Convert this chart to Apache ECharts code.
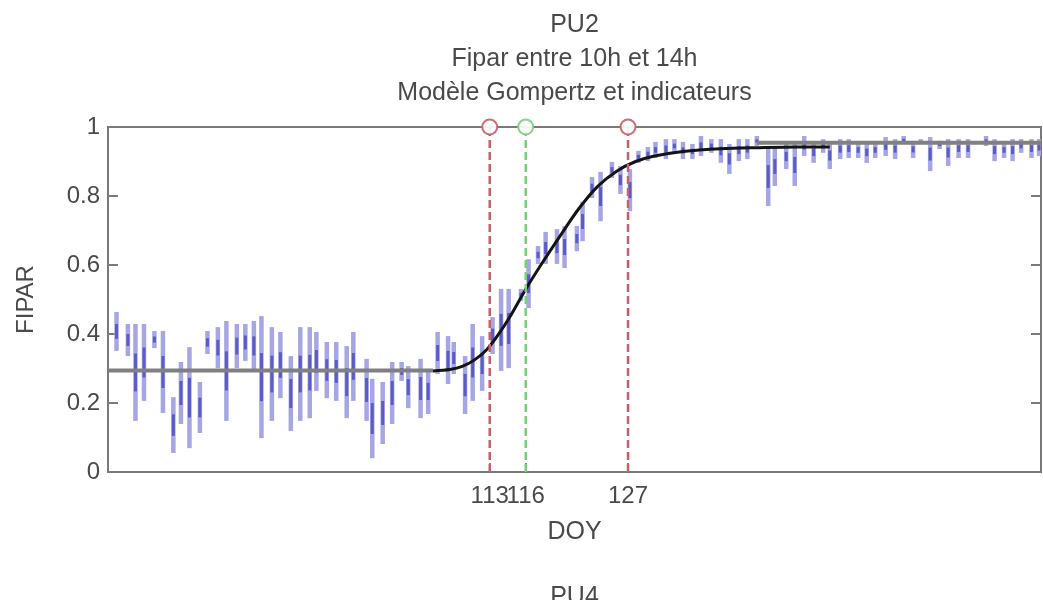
<!DOCTYPE html>
<html>
<head>
<meta charset="utf-8">
<script src="https://cdn.jsdelivr.net/npm/echarts@6/dist/echarts.min.js"></script>
<style>
  html, body { margin: 0; padding: 0; background: #ffffff; }
  #chart { width: 1043px; height: 600px; }
</style>
</head>
<body>
<div id="chart"></div>
<script>
// ---------------- data ----------------
const titleLines = ['PU2', 'Fipar entre 10h et 14h', 'Modèle Gompertz et indicateurs'];
const nextPanelTitle = 'PU4';
const xName = 'DOY';
const yName = 'FIPAR';
const xRange = [72.3, 170.8];
const yTicks = [0, 0.2, 0.4, 0.6, 0.8, 1];

// measured FIPAR (10h-14h) : per day, low and high of the readings
const days = [73.2, 74.4, 75.2, 76.1, 77.2, 78.1, 79.2, 80.0, 80.9, 82.0, 82.8, 83.9, 84.8, 85.9, 86.8, 87.7, 88.5, 89.6, 90.5, 91.6,
  92.6, 93.6, 94.3, 95.4, 96.4, 97.5, 98.2, 99.6, 100.2, 101.3, 102.3, 103.3, 104.0, 105.3, 106.1, 107.1, 108.2, 108.8, 110.0, 110.8,
  111.8, 112.9, 113.8, 114.6, 115.9, 116.7, 117.7, 118.5, 119.7, 120.5, 121.8, 122.4, 123.4, 124.3, 125.5, 126.4, 127.4, 128.3, 129.3, 130.1,
  131.2, 132.1, 133.0, 134.0, 134.9, 136.0, 137.0, 137.9, 138.9, 139.8, 140.8, 142.0, 142.7, 143.9, 144.8, 145.8, 146.8, 147.8, 148.5, 149.6,
  150.5, 151.5, 152.4, 153.3, 154.4, 155.4, 156.3, 157.3, 158.1, 159.1, 160.1, 161.0, 162.1, 163.1, 165.0, 165.9, 166.9, 167.8, 168.7, 169.8, 170.6];
const fiparLow = [0.354, 0.339, 0.151, 0.209, 0.362, 0.174, 0.058, 0.142, 0.072, 0.116, 0.345, 0.304, 0.151, 0.304, 0.325, 0.296, 0.101, 0.151, 0.217, 0.122,
  0.151, 0.159, 0.238, 0.217, 0.209, 0.159, 0.209, 0.151, 0.043, 0.084, 0.142, 0.267, 0.188, 0.159, 0.171, 0.287, 0.258, 0.287, 0.171, 0.209,
  0.238, 0.345, 0.296, 0.304, 0.499, 0.478, 0.606, 0.606, 0.606, 0.594, 0.643, 0.672, 0.797, 0.730, 0.855, 0.809, 0.759, 0.899, 0.904, 0.913,
  0.910, 0.928, 0.910, 0.910, 0.919, 0.928, 0.899, 0.867, 0.904, 0.910, 0.948, 0.774, 0.832, 0.881, 0.832, 0.919, 0.899, 0.928, 0.881, 0.910,
  0.913, 0.913, 0.899, 0.913, 0.919, 0.910, 0.954, 0.913, 0.954, 0.875, 0.939, 0.890, 0.913, 0.913, 0.948, 0.904, 0.913, 0.904, 0.928, 0.913, 0.919];
const fiparHigh = [0.461, 0.426, 0.426, 0.426, 0.406, 0.406, 0.214, 0.316, 0.359, 0.258, 0.406, 0.417, 0.435, 0.426, 0.426, 0.435, 0.449, 0.417, 0.403, 0.333,
  0.417, 0.417, 0.403, 0.374, 0.374, 0.362, 0.403, 0.325, 0.267, 0.258, 0.316, 0.316, 0.304, 0.325, 0.296, 0.403, 0.391, 0.374, 0.333, 0.426,
  0.391, 0.446, 0.528, 0.528, 0.528, 0.614, 0.652, 0.693, 0.701, 0.710, 0.710, 0.780, 0.852, 0.867, 0.896, 0.884, 0.875, 0.928, 0.939, 0.954,
  0.962, 0.962, 0.954, 0.948, 0.971, 0.962, 0.962, 0.948, 0.962, 0.962, 0.971, 0.939, 0.939, 0.948, 0.948, 0.971, 0.954, 0.962, 0.954, 0.962,
  0.962, 0.954, 0.954, 0.954, 0.968, 0.962, 0.971, 0.957, 0.962, 0.968, 0.957, 0.962, 0.962, 0.962, 0.971, 0.962, 0.954, 0.962, 0.962, 0.962, 0.962];

// fitted Gompertz model
const curveDoy = [106.6, 108.4, 109.7, 111.0, 112.3, 113.5, 114.8, 116.4, 118.0, 120.0, 122.0, 124.0, 126.0, 128.0, 130.0, 133.0, 137.0, 141.0, 145.0, 148.5];
const curveFipar = [0.293, 0.297, 0.306, 0.325, 0.355, 0.398, 0.453, 0.530, 0.600, 0.683, 0.763, 0.828, 0.872, 0.900, 0.916, 0.929, 0.937, 0.940, 0.942, 0.942];

// plateau levels (grey)
const plateauLowDoy = [72.3, 106.6];
const plateauLowVal = [0.294, 0.294];
const plateauHighDoy = [140.8, 170.8];
const plateauHighVal = [0.954, 0.954];

// indicators (DOY) : start, inflection, end
const indicatorDoy = [112.6, 116.4, 127.2];
const indicatorKind = ['red', 'green', 'red'];

// ---------------- chart ----------------
const GRID = { left: 108, right: 2, top: 127, bottom: 128 };
const FONT = '"Liberation Sans", Arial, sans-serif';
const TXT = '#4a4a4a';
const AX = '#7a7a7a';
const COLORS = { red: '#c75f6c', green: '#78cf7a' };

const chart = echarts.init(document.getElementById('chart'), null, { renderer: 'canvas' });

const rangeData = days.map((d, i) => [d, fiparLow[i], fiparHigh[i]]);

const series = [];
series.push({
  type: 'custom',
  name: 'mesures',
  xAxisIndex: 0, yAxisIndex: 0,
  data: rangeData,
  encode: { x: 0, y: [1, 2] },
  clip: true,
  z: 2,
  renderItem: function (params, api) {
    const p1 = api.coord([api.value(0), api.value(1)]);
    const p2 = api.coord([api.value(0), api.value(2)]);
    const mid = (p1[1] + p2[1]) / 2;
    const q = Math.abs(p1[1] - p2[1]) / 5;
    return {
      type: 'group',
      children: [
        { type: 'line', shape: { x1: p1[0], y1: p1[1] + 1, x2: p2[0], y2: p2[1] - 1 },
          style: { stroke: '#a6a6e4', lineWidth: 4.5 } },
        { type: 'line', shape: { x1: p1[0], y1: mid + q, x2: p2[0], y2: mid - q },
          style: { stroke: '#5a5ac8', lineWidth: 3 } }
      ]
    };
  }
});
series.push({
  type: 'line', name: 'plateau bas', data: plateauLowDoy.map((d, i) => [d, plateauLowVal[i]]),
  showSymbol: false, symbol: 'none', lineStyle: { color: '#808080', width: 4 }, z: 3, silent: true
});
series.push({
  type: 'line', name: 'plateau haut', data: plateauHighDoy.map((d, i) => [d, plateauHighVal[i]]),
  showSymbol: false, symbol: 'none', lineStyle: { color: '#808080', width: 4 }, z: 3, silent: true
});
series.push({
  type: 'line', name: 'Gompertz', data: curveDoy.map((d, i) => [d, curveFipar[i]]),
  smooth: 0.3, showSymbol: false, symbol: 'none', lineStyle: { color: '#141414', width: 3 }, z: 4, silent: true
});
indicatorDoy.forEach((d, i) => {
  const c = COLORS[indicatorKind[i]];
  series.push({
    type: 'line', name: 'indicateur ' + (i + 1), data: [[d, 0], [d, 1]],
    showSymbol: false, symbol: 'none', lineStyle: { color: c, width: 2.5, type: [8, 4] }, z: 5, silent: true
  });
  series.push({
    type: 'scatter', name: 'marqueur ' + (i + 1), data: [[d, 1]],
    symbol: 'emptyCircle', symbolSize: 15, itemStyle: { color: c, borderColor: c, borderWidth: 3, opacity: 0.9 },
    clip: false, z: 6, silent: true
  });
});

const bottomLabelAxis = (values) => ({
  type: 'value', min: xRange[0], max: xRange[1], position: 'bottom', offset: 0,
  axisLine: { show: false }, axisTick: { show: false },
  axisLabel: { show: true, customValues: values, hideOverlap: false, color: TXT, fontSize: 24, fontFamily: FONT, margin: 12,
    formatter: v => String(Math.round(v)) },
  splitLine: { show: false }
});

const option = {
  animation: false,
  backgroundColor: '#ffffff',
  textStyle: { fontFamily: FONT },
  grid: { left: GRID.left, right: GRID.right, top: GRID.top, bottom: GRID.bottom,
    show: true, borderColor: AX, borderWidth: 2, backgroundColor: 'transparent' },
  xAxis: [
    {
      type: 'value', min: xRange[0], max: xRange[1], position: 'bottom', offset: 0,
      name: xName, nameLocation: 'middle', nameGap: 48,
      nameTextStyle: { color: TXT, fontSize: 25, fontFamily: FONT },
      axisLine: { show: true, onZero: false, lineStyle: { color: AX, width: 2 } },
      axisTick: { show: true, inside: true, length: 9, customValues: indicatorDoy, lineStyle: { color: AX, width: 2 } },
      axisLabel: { show: true, customValues: [indicatorDoy[0], indicatorDoy[2]], hideOverlap: false, color: TXT, fontSize: 24, fontFamily: FONT, margin: 12,
        formatter: v => String(Math.round(v)) },
      splitLine: { show: false }
    },
    {
      type: 'value', min: xRange[0], max: xRange[1], position: 'top', offset: 0,
      axisLine: { show: true, onZero: false, lineStyle: { color: AX, width: 2 } },
      axisTick: { show: true, inside: true, length: 9, customValues: indicatorDoy, lineStyle: { color: AX, width: 2 } },
      axisLabel: { show: false },
      splitLine: { show: false }
    },
    bottomLabelAxis([indicatorDoy[1]])
  ],
  yAxis: [
    {
      type: 'value', min: yTicks[0], max: yTicks[yTicks.length - 1], interval: 0.2, position: 'left',
      name: yName, nameLocation: 'middle', nameGap: 70, nameRotate: 90,
      nameTextStyle: { color: TXT, fontSize: 24, fontFamily: FONT },
      axisLine: { show: true, onZero: false, lineStyle: { color: AX, width: 2 } },
      axisTick: { show: true, inside: true, length: 10, lineStyle: { color: AX, width: 2 } },
      axisLabel: { color: TXT, fontSize: 24, fontFamily: FONT, margin: 8,
        formatter: v => String(Math.round(v * 10) / 10) },
      splitLine: { show: false }
    },
    {
      type: 'value', min: yTicks[0], max: yTicks[yTicks.length - 1], interval: 0.2, position: 'right',
      axisLine: { show: true, onZero: false, lineStyle: { color: AX, width: 2 } },
      axisTick: { show: true, inside: true, length: 10, lineStyle: { color: AX, width: 2 } },
      axisLabel: { show: false },
      splitLine: { show: false }
    }
  ],
  graphic: titleLines.map((t, i) => ({
    type: 'text',
    x: GRID.left + (1043 - GRID.left - GRID.right) / 2, y: 25 + i * 34,
    style: { text: t, fill: TXT, font: '25px ' + FONT, textAlign: 'center', textVerticalAlign: 'middle' },
    z: 10
  })).concat([{
    type: 'text',
    x: GRID.left + (1043 - GRID.left - GRID.right) / 2, y: 597,
    style: { text: nextPanelTitle, fill: TXT, font: '25px ' + FONT, textAlign: 'center', textVerticalAlign: 'middle' },
    z: 10
  }]),
  series: series
};
chart.setOption(option);
</script>
</body>
</html>
